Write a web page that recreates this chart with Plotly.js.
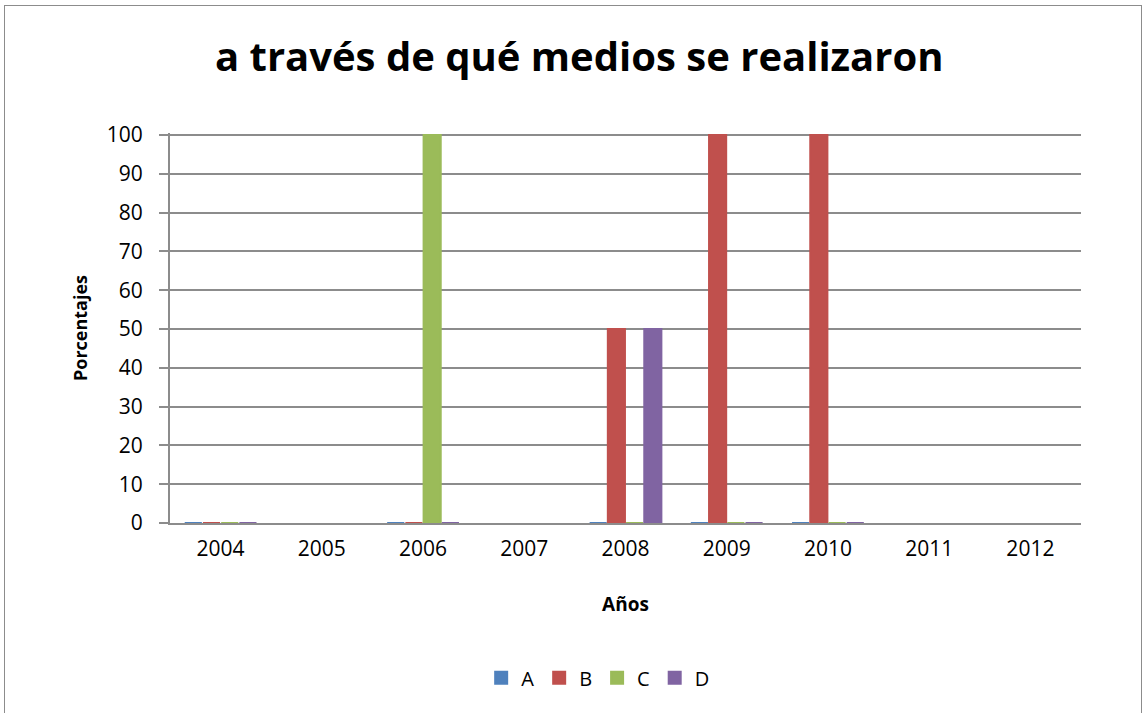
<!DOCTYPE html>
<html>
<head>
<meta charset="utf-8">
<script src="https://cdn.plot.ly/plotly-3.0.1.min.js"></script>
<style>
html,body{margin:0;padding:0;background:#fff;}
#frame{position:absolute;left:4px;top:5px;width:1138px;height:708px;border:1.5px solid #8c8c8c;border-bottom:none;box-sizing:border-box;}
#chart{position:absolute;left:0;top:0;width:1147px;height:713px;}
</style>
</head>
<body>
<div id="frame"></div>
<div id="chart"></div>
<script>
var years = ['2004','2005','2006','2007','2008','2009','2010','2011','2012'];
var seriesA = [0, null, 0, null, 0, 0, 0, null, null];
var seriesB = [0, null, 0, null, 50, 100, 100, null, null];
var seriesC = [0, null, 100, null, 0, 0, 0, null, null];
var seriesD = [0, null, 0, null, 50, 0, 0, null, null];
var seriesNames = ['A','B','C','D'];
var seriesColors = ['#4F81BD','#C0504D','#9BBB59','#8064A2'];
var yTicks = [0,10,20,30,40,50,60,70,80,90,100];

var all = [seriesA, seriesB, seriesC, seriesD];
var traces = all.map(function(vals, i){
  return {
    type: 'bar',
    name: seriesNames[i],
    x: years,
    y: vals,
    marker: {color: seriesColors[i], line: {color: seriesColors[i], width: 2}}
  };
});

var font = 'Open Sans, Liberation Sans, sans-serif';
var layout = {
  width: 1147, height: 713,
  paper_bgcolor: 'rgba(0,0,0,0)',
  plot_bgcolor: 'rgba(0,0,0,0)',
  margin: {l: 170, r: 66, t: 133, b: 190},
  barmode: 'group',
  bargap: 0.28,
  bargroupgap: 0.06,
  showlegend: true,
  title: {text: '<b>a través de qué medios se realizaron</b>', x: 0.505, xanchor: 'center', y: 0.92, yanchor: 'middle',
          font: {family: font, size: 40, color: '#000'}},
  xaxis: {
    type: 'category',
    showgrid: false,
    showline: true, linecolor: '#8c8c8c', linewidth: 2,
    ticks: '', tickfont: {family: font, size: 21, color: '#000'},
    ticklabelstandoff: 6,
    title: {text: '<b>Años</b>', font: {family: font, size: 19, color: '#000'}, standoff: 36},
    fixedrange: true
  },
  yaxis: {
    range: [0, 100.5],
    tickvals: yTicks,
    ticktext: yTicks.map(String),
    showgrid: true, gridcolor: '#8c8c8c', gridwidth: 2,
    zeroline: false,
    showline: true, linecolor: '#8c8c8c', linewidth: 2,
    ticks: 'outside', ticklen: 9, tickcolor: '#8c8c8c', tickwidth: 2,
    ticklabelstandoff: 12,
    tickfont: {family: font, size: 21, color: '#000'},
    title: {text: '<b>Porcentajes</b>', font: {family: font, size: 18, color: '#000'}, standoff: 14},
    fixedrange: true
  },
  legend: {
    orientation: 'h', x: 0.47, xanchor: 'center', y: -0.397, yanchor: 'middle',
    font: {family: font, size: 20, color: '#000'},
    itemwidth: 30, traceorder: 'normal'
  }
};

Plotly.newPlot('chart', traces, layout, {displayModeBar: false, staticPlot: true});
</script>
</body>
</html>
